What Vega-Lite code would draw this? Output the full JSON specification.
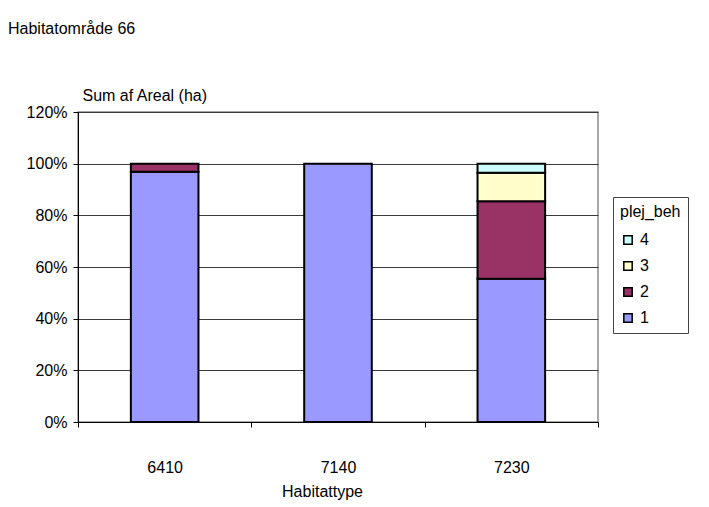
{
  "$schema": "https://vega.github.io/schema/vega-lite/v6.json",
  "width": 520,
  "height": 310,
  "autosize": "none",
  "padding": {"left": 78, "top": 112, "right": 111, "bottom": 85},
  "background": "white",
  "config": {
    "font": "Liberation Sans",
    "view": {"stroke": "#8c8c8c", "strokeWidth": 1.5}
  },
  "title": {
    "text": "Habitatområde  66",
    "anchor": "start",
    "frame": "group",
    "orient": "top",
    "offset": 0,
    "dx": -70,
    "dy": -34,
    "fontSize": 16,
    "fontWeight": "normal",
    "color": "black",
    "baseline": "bottom"
  },
  "data": {
    "values": [
      {"Habitattype": "6410", "plej_beh": "1", "andel": 0.969},
      {"Habitattype": "6410", "plej_beh": "2", "andel": 0.031},
      {"Habitattype": "7140", "plej_beh": "1", "andel": 1.0},
      {"Habitattype": "7230", "plej_beh": "1", "andel": 0.555},
      {"Habitattype": "7230", "plej_beh": "2", "andel": 0.3},
      {"Habitattype": "7230", "plej_beh": "3", "andel": 0.11},
      {"Habitattype": "7230", "plej_beh": "4", "andel": 0.035}
    ]
  },
  "mark": {"type": "bar", "stroke": "black", "strokeWidth": 2, "width": {"band": 0.39}},
  "encoding": {
    "x": {
      "field": "Habitattype",
      "type": "nominal",
      "scale": {"paddingInner": 0, "paddingOuter": 0},
      "axis": {
        "labelAngle": 0,
        "tickBand": "extent",
        "domainColor": "black",
        "tickColor": "black",
        "tickSize": 5,
        "labelPadding": 32,
        "labelFontSize": 16,
        "labelColor": "black",
        "title": "Habitattype",
        "titleFontSize": 16,
        "titleFontWeight": "normal",
        "titleColor": "black",
        "titleX": 244,
        "titleY": 69,
        "titleAlign": "center",
        "titleBaseline": "middle"
      }
    },
    "y": {
      "field": "andel",
      "type": "quantitative",
      "stack": "zero",
      "scale": {"domain": [0, 1.2]},
      "axis": {
        "format": "%",
        "values": [0, 0.2, 0.4, 0.6, 0.8, 1.0, 1.2],
        "grid": true,
        "gridColor": "#3a3a3a",
        "gridOpacity": 1,
        "domainColor": "black",
        "tickColor": "black",
        "tickSize": 5,
        "labelPadding": 6,
        "labelFontSize": 16,
        "labelColor": "black",
        "title": "Sum af Areal (ha)",
        "titleAngle": 0,
        "titleAlign": "left",
        "titleBaseline": "middle",
        "titleX": 4,
        "titleY": -17,
        "titleFontSize": 16,
        "titleFontWeight": "normal",
        "titleColor": "black"
      }
    },
    "color": {
      "field": "plej_beh",
      "type": "nominal",
      "scale": {
        "domain": ["4", "3", "2", "1"],
        "range": ["#CCFFFF", "#FFFFCC", "#993366", "#9999FF"]
      },
      "legend": {
        "title": "plej_beh",
        "orient": "none",
        "legendX": 535,
        "legendY": 85,
        "fillColor": "white",
        "strokeColor": "#444",
        "padding": 7,
        "titleFontSize": 16,
        "titleFontWeight": "normal",
        "titleColor": "black",
        "titlePadding": 12,
        "symbolType": "square",
        "symbolSize": 70,
        "symbolStrokeColor": "black",
        "symbolStrokeWidth": 1.5,
        "symbolOpacity": 1,
        "labelFontSize": 16,
        "labelColor": "black",
        "labelOffset": 4,
        "rowPadding": 10
      }
    },
    "order": {"field": "plej_beh", "type": "ordinal", "sort": "ascending"}
  }
}
